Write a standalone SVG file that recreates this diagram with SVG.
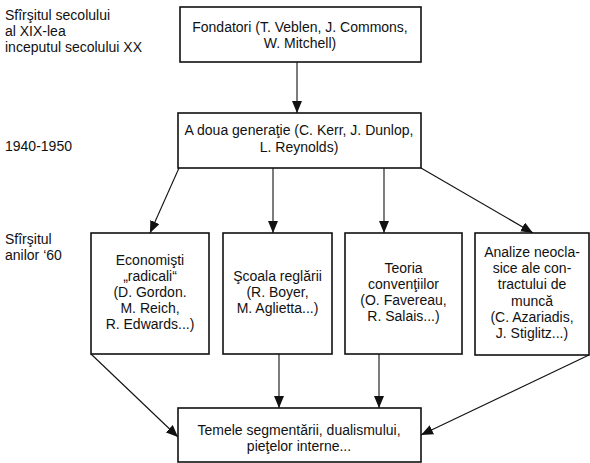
<svg xmlns="http://www.w3.org/2000/svg" width="590" height="463" viewBox="0 0 590 463">
<defs>
<marker id="ah" viewBox="0 0 12 10" refX="12" refY="5" markerWidth="12" markerHeight="10" markerUnits="userSpaceOnUse" orient="auto">
<path d="M0,0 L12,5 L0,10 Z" fill="#111"/>
</marker>
<style>
text{font-family:"Liberation Sans",Arial,sans-serif;font-size:14px;fill:#111}
.c{text-anchor:middle}
rect{fill:#fff;stroke:#111;stroke-width:1.6}
#connectors line{stroke:#111;stroke-width:1.1;marker-end:url(#ah)}
</style>
</defs>
<rect x="0" y="0" width="590" height="463" style="fill:#fff;stroke:none"/>
<g id="labels">
<text x="5" y="20">Sfîrşitul secolului</text>
<text x="5" y="36">al XIX-lea</text>
<text x="5" y="52">inceputul secolului XX</text>
<text x="5" y="151">1940-1950</text>
<text x="5" y="244">Sfîrşitul</text>
<text x="5" y="260">anilor ‘60</text>
</g>
<g id="connectors">
<line x1="297" y1="62" x2="297" y2="113"/>
<line x1="179" y1="168" x2="150" y2="233"/>
<line x1="273" y1="168" x2="273" y2="233"/>
<line x1="384" y1="168" x2="384" y2="233"/>
<line x1="421" y1="168" x2="533" y2="233"/>
<line x1="91" y1="354" x2="178" y2="437"/>
<line x1="279" y1="354" x2="279" y2="408"/>
<line x1="379" y1="354" x2="379" y2="408"/>
<line x1="589" y1="355" x2="421" y2="435"/>
</g>
<g id="fondatori">
<rect x="180" y="7" width="241" height="55"/>
<text class="c" x="300" y="32">Fondatori (T. Veblen, J. Commons,</text>
<text class="c" x="300" y="48">W. Mitchell)</text>
</g>
<g id="generatia2">
<rect x="178" y="113" width="243" height="55"/>
<text class="c" x="299" y="135">A doua generaţie (C. Kerr, J. Dunlop,</text>
<text class="c" x="299" y="152">L. Reynolds)</text>
</g>
<g id="radicali">
<rect x="91" y="233" width="118" height="121"/>
<text class="c" x="150" y="265">Economişti</text>
<text class="c" x="150" y="281">„radicali“</text>
<text class="c" x="150" y="297">(D. Gordon.</text>
<text class="c" x="150" y="313">M. Reich,</text>
<text class="c" x="150" y="329">R. Edwards...)</text>
</g>
<g id="reglare">
<rect x="223" y="233" width="109" height="121"/>
<text class="c" x="277.5" y="281">Şcoala reglării</text>
<text class="c" x="277.5" y="297">(R. Boyer,</text>
<text class="c" x="277.5" y="313">M. Aglietta...)</text>
</g>
<g id="conventii">
<rect x="345" y="233" width="117" height="121"/>
<text class="c" x="403.5" y="273">Teoria</text>
<text class="c" x="403.5" y="289">convenţiilor</text>
<text class="c" x="403.5" y="305">(O. Favereau,</text>
<text class="c" x="403.5" y="321">R. Salais...)</text>
</g>
<g id="neoclasice">
<rect x="475" y="233" width="114" height="122"/>
<text class="c" x="532" y="257">Analize neocla-</text>
<text class="c" x="532" y="273">sice ale con-</text>
<text class="c" x="532" y="289">tractului de</text>
<text class="c" x="532" y="306">muncă</text>
<text class="c" x="532" y="322">(C. Azariadis,</text>
<text class="c" x="532" y="338">J. Stiglitz...)</text>
</g>
<g id="temele">
<rect x="178" y="408" width="243" height="54"/>
<text class="c" x="299" y="435">Temele segmentării, dualismului,</text>
<text class="c" x="299" y="451">pieţelor interne...</text>
</g>
</svg>
